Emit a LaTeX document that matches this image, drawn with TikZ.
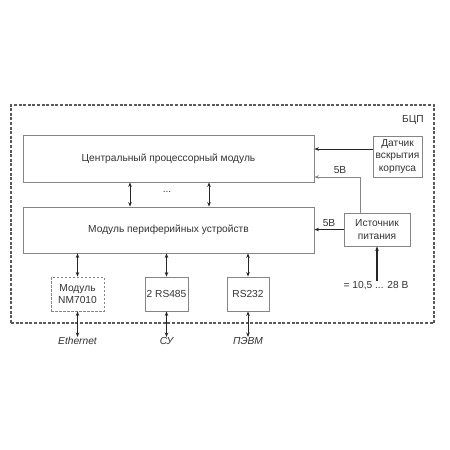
\documentclass[tikz,border=0pt]{standalone}
\usepackage{fontspec}
\setmainfont{Liberation Sans}
\usetikzlibrary{arrows.meta}
\definecolor{txt}{HTML}{333333}
\definecolor{frame}{HTML}{858585}
\definecolor{outer}{HTML}{5A5A5A}
\begin{document}
\begin{tikzpicture}[x=1pt,y=-1pt,
  every node/.style={font=\fontsize{10.2}{12}\selectfont, text=txt, align=center, inner sep=0pt},
  blk/.style={draw=frame, line width=0.9pt, rectangle},
  dblk/.style={blk, dash pattern=on 2.5pt off 1.5pt},
  conn/.style={line width=1pt, draw=black!85, -{Stealth[length=4.5pt,width=3.5pt]}},
  bconn/.style={conn, {Stealth[length=4.5pt,width=3.5pt]}-{Stealth[length=4.5pt,width=3.5pt]}},
  lbl/.style={font=\itshape\fontsize{10.2}{12}\selectfont}
]
\useasboundingbox (0,0) rectangle (450,450);
\fill[white] (0,0) rectangle (450,450);
% outer frame
\node[draw=outer, line width=1.1pt, dash pattern=on 3pt off 1.6pt, minimum width=423pt, minimum height=218pt] (bcp) at (222.5,214) {};
\node[anchor=east] (bcplbl) at (424,120) {БЦП};
% blocks
\node[blk, minimum width=291pt, minimum height=47pt] (cpu) at (168.5,158.5) {Центральный процессорный модуль};
\node[blk, minimum width=291pt, minimum height=46pt] (per) at (168.5,230) {Модуль периферийных устройств};
\node[blk, minimum width=49pt, minimum height=41pt, font=\fontsize{10.2}{12.5}\selectfont] (dat) at (397.5,156.5) {Датчик\\вскрытия\\корпуса};
\node[blk, minimum width=66pt, minimum height=33pt, font=\fontsize{10.2}{12.5}\selectfont] (src) at (377,229.5) {Источник\\питания};
\node[dblk, minimum width=53pt, minimum height=34pt, font=\fontsize{10.2}{12.5}\selectfont] (nm) at (77.5,294) {Модуль\\NM7010};
\node[blk, minimum width=43pt, minimum height=34pt] (rs485) at (166.5,294) {2 RS485};
\node[blk, minimum width=42pt, minimum height=34pt] (rs232) at (248,294) {RS232};
% external labels
\node[lbl, anchor=north] (eth) at (77.5,337) {Ethernet};
\node[lbl, anchor=north] (su) at (166.5,337) {СУ};
\node[lbl, anchor=north] (pc) at (248,337) {ПЭВМ};
\node[anchor=north] (inp) at (376,281) {= 10,5 ... 28 В};
% CPU <-> peripheral
\coordinate (b1) at (130,0);
\coordinate (b2) at (209,0);
\draw[bconn] (cpu.south -| b1) -- (per.north -| b1);
\draw[bconn] (cpu.south -| b2) -- (per.north -| b2);
\node (dots) at (167,192) {...};
% peripheral <-> interface blocks
\draw[bconn] (per.south -| nm.north) -- (nm.north);
\draw[bconn] (per.south -| rs485.north) -- (rs485.north);
\draw[bconn] (per.south -| rs232.north) -- (rs232.north);
\draw[bconn] (nm.south) -- (eth.north);
\draw[bconn] (rs485.south) -- (su.north);
\draw[bconn] (rs232.south) -- (pc.north);
% sensor -> CPU
\coordinate (ds) at (0,149);
\draw[conn] (dat.west |- ds) -- (cpu.east |- ds);
% power lines
\coordinate (k) at (360,177);
\draw[conn, draw=frame, line width=0.9pt] (src.north -| k) -- (k) -- (cpu.east |- k);
\node (v1) at (340,170) {5В};
\draw[conn] (src.west) -- (per.east |- src.west);
\node (v2) at (329,223) {5В};
\draw[conn, line width=1.3pt] (inp.north -| src.south) -- (src.south);
\end{tikzpicture}
\end{document}
